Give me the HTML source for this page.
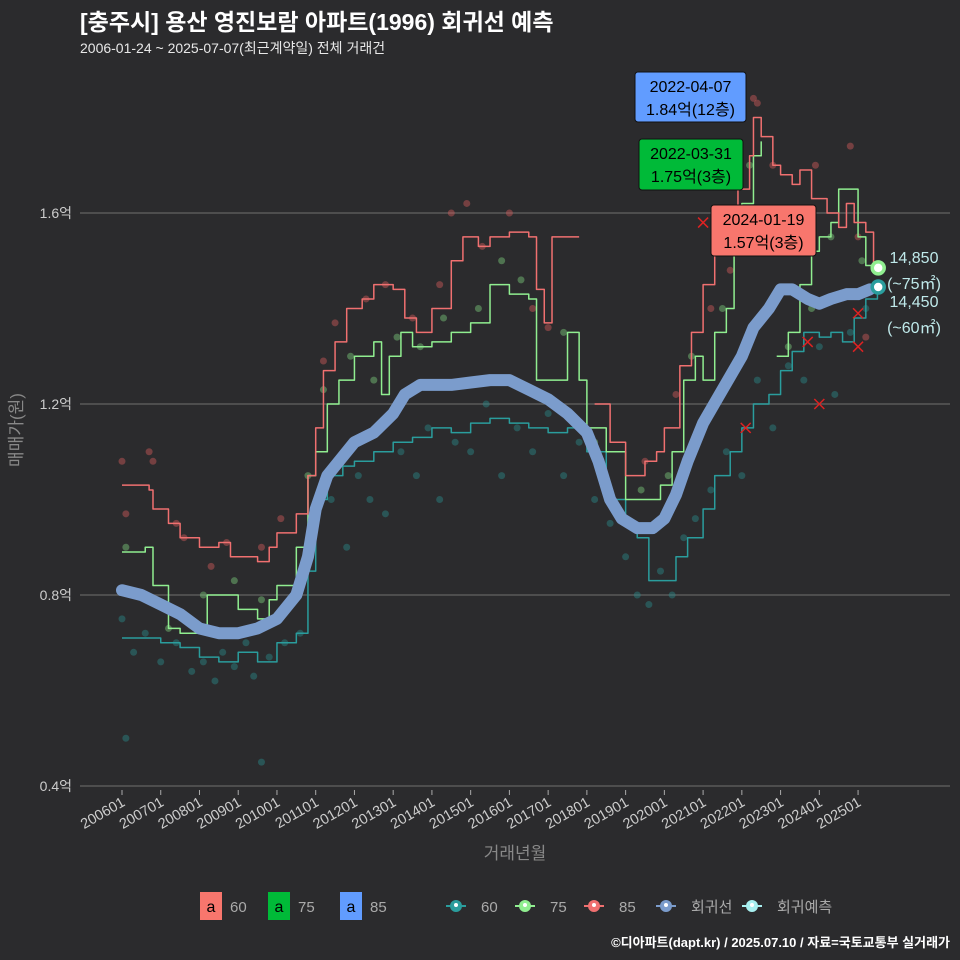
<!DOCTYPE html>
<html><head><meta charset="utf-8">
<style>
html,body{margin:0;padding:0;background:#2b2b2d;}
svg{display:block;font-family:"Liberation Sans","Noto Sans CJK KR",sans-serif;}
</style></head>
<body>
<svg id="chart" width="960" height="960" viewBox="0 0 960 960" xmlns="http://www.w3.org/2000/svg">
<rect width="960" height="960" fill="#2b2b2d"/>
<text x="80" y="30" fill="#ffffff" font-size="23" font-weight="bold">[충주시] 용산 영진보람 아파트(1996) 회귀선 예측</text>
<text x="80" y="53" fill="#e8e8e8" font-size="14">2006-01-24 ~ 2025-07-07(최근계약일) 전체 거래건</text>
<g id="grid"></g>
<g id="plot"></g>
<text x="22" y="430" fill="#888" font-size="17" text-anchor="middle" transform="rotate(-90 22 430)">매매가(원)</text>
<text x="515" y="859" fill="#888" font-size="17" text-anchor="middle">거래년월</text>
<g id="legend"></g>
<text x="950" y="947" fill="#ffffff" font-size="13" font-weight="bold" text-anchor="end">©디아파트(dapt.kr) / 2025.07.10 / 자료=국토교통부 실거래가</text>
</svg>
<script>
const yTicks=[0.4,0.8,1.2,1.6];
const yTickLabels=["0.4억","0.8억","1.2억","1.6억"];
const xTicks=[2006,2007,2008,2009,2010,2011,2012,2013,2014,2015,2016,2017,2018,2019,2020,2021,2022,2023,2024,2025];
const xTickLabels=["200601","200701","200801","200901","201001","201101","201201","201301","201401","201501","201601","201701","201801","201901","202001","202101","202201","202301","202401","202501"];
const redT=[2006.0,2006.7,2006.8,2007.2,2007.5,2008.0,2008.5,2008.8,2009.5,2009.8,2010.0,2010.5,2010.8,2011.0,2011.2,2011.5,2011.8,2012.2,2012.5,2013.0,2013.3,2013.6,2014.0,2014.5,2014.8,2015.2,2015.5,2016.0,2016.5,2016.7,2016.9,2017.1,2017.5,2017.8];
const redV=[1.03,1.02,0.98,0.95,0.92,0.90,0.91,0.88,0.87,0.90,0.93,0.97,1.05,1.15,1.27,1.33,1.40,1.42,1.45,1.44,1.38,1.35,1.40,1.50,1.55,1.53,1.55,1.56,1.55,1.44,1.37,1.55,1.55,1.55];
const red2T=[2018.2,2018.6,2019.0,2019.5,2019.8,2020.0,2020.4,2020.7,2021.0,2021.3,2021.6,2021.9,2022.2,2022.3,2022.5,2022.8,2023.0,2023.3,2023.5,2023.8,2024.0,2024.2,2024.5,2024.7,2024.9,2025.2,2025.4];
const red2V=[1.20,1.12,1.05,1.08,1.10,1.15,1.28,1.35,1.45,1.52,1.60,1.65,1.72,1.80,1.76,1.70,1.68,1.66,1.69,1.63,1.63,1.60,1.57,1.62,1.58,1.56,1.49];
const greenT=[2006.0,2006.6,2006.8,2007.2,2007.5,2008.0,2008.2,2008.8,2009.0,2009.5,2009.8,2010.0,2010.5,2010.8,2011.0,2011.3,2011.6,2012.0,2012.5,2012.7,2012.9,2013.2,2013.5,2014.0,2014.5,2015.0,2015.5,2016.0,2016.5,2016.7,2017.2,2017.5,2017.8,2018.0,2018.5,2019.0,2019.5,2019.9,2020.2,2020.5,2020.8,2021.0,2021.3,2021.6,2021.8,2022.0,2022.3,2022.5];
const greenV=[0.89,0.90,0.82,0.73,0.72,0.72,0.80,0.80,0.77,0.75,0.79,0.82,0.90,1.05,1.10,1.20,1.25,1.30,1.33,1.22,1.30,1.35,1.32,1.33,1.35,1.37,1.45,1.43,1.42,1.25,1.25,1.35,1.25,1.15,1.10,1.00,1.00,1.03,1.10,1.25,1.30,1.25,1.35,1.40,1.55,1.62,1.72,1.75];
const green2T=[2022.9,2023.2,2023.5,2023.8,2024.0,2024.3,2024.5,2024.8,2025.0,2025.2,2025.5];
const green2V=[1.30,1.35,1.45,1.52,1.55,1.58,1.65,1.65,1.55,1.49,1.485];
const tealT=[2006,2007,2007.5,2008,2008.5,2009,2009.5,2010,2010.5,2010.8,2011.0,2011.3,2011.7,2012,2012.5,2013,2013.5,2014,2014.5,2015,2015.5,2016,2016.5,2017,2017.5,2018,2018.5,2019,2019.3,2019.6,2020.0,2020.3,2020.6,2021.0,2021.3,2021.7,2022.0,2022.3,2022.7,2023.0,2023.3,2023.6,2024.0,2024.3,2024.6,2024.9,2025.2,2025.5];
const tealV=[0.71,0.70,0.69,0.67,0.66,0.68,0.66,0.70,0.72,0.85,1.00,1.05,1.07,1.08,1.10,1.12,1.13,1.15,1.14,1.16,1.17,1.16,1.15,1.14,1.15,1.10,1.00,0.95,0.92,0.83,0.83,0.88,0.92,0.98,1.05,1.10,1.15,1.20,1.22,1.27,1.31,1.35,1.34,1.35,1.33,1.38,1.42,1.445];
const regT=[2006.0,2006.5,2007,2007.5,2008,2008.5,2009,2009.5,2010,2010.5,2010.8,2011,2011.3,2011.7,2012,2012.5,2013,2013.3,2013.7,2014,2014.5,2015,2015.5,2016,2016.5,2017,2017.5,2018,2018.3,2018.6,2018.9,2019.3,2019.7,2020,2020.3,2020.6,2021,2021.5,2022,2022.3,2022.7,2023.0,2023.3,2023.7,2024.0,2024.3,2024.7,2025.0,2025.3];
const regV=[0.81,0.80,0.78,0.76,0.73,0.72,0.72,0.73,0.75,0.80,0.88,0.98,1.05,1.09,1.12,1.14,1.18,1.22,1.24,1.24,1.24,1.245,1.25,1.25,1.23,1.21,1.18,1.14,1.08,1.00,0.96,0.94,0.94,0.96,1.01,1.08,1.16,1.23,1.30,1.36,1.40,1.44,1.44,1.42,1.41,1.42,1.43,1.43,1.44];
const redPtT=[2006.0,2006.1,2006.7,2006.8,2007.4,2007.6,2008.3,2008.7,2009.6,2010.1,2011.2,2011.5,2012.3,2012.8,2013.5,2014.2,2014.5,2014.9,2015.3,2016.0,2016.6,2017.0,2019.5,2020.3,2021.2,2021.7,2022.3,2022.4,2022.8,2023.6,2023.9,2024.8,2025.0,2025.2];
const redPtV=[1.08,0.97,1.10,1.08,0.95,0.92,0.86,0.91,0.90,0.96,1.29,1.37,1.42,1.45,1.38,1.45,1.60,1.62,1.53,1.60,1.40,1.36,1.08,1.22,1.40,1.48,1.84,1.83,1.70,1.60,1.70,1.74,1.55,1.34];
const greenPtT=[2006.1,2007.2,2008.1,2008.9,2009.6,2010.8,2011.2,2011.9,2012.5,2013.1,2013.7,2014.3,2015.2,2015.8,2016.3,2017.4,2018.2,2019.4,2020.1,2020.7,2021.5,2022.2,2023.2,2023.8,2024.3,2025.1];
const greenPtV=[0.90,0.73,0.80,0.83,0.79,1.05,1.23,1.30,1.25,1.34,1.32,1.38,1.40,1.50,1.46,1.35,1.12,1.02,1.05,1.30,1.40,1.70,1.32,1.40,1.55,1.50];
const tealPtT=[2006.0,2006.1,2006.3,2006.6,2007.0,2007.4,2007.8,2008.1,2008.4,2008.6,2008.9,2009.2,2009.4,2009.6,2009.8,2010.2,2010.6,2011.0,2011.4,2011.8,2012.1,2012.4,2012.8,2013.2,2013.6,2013.9,2014.2,2014.6,2015.0,2015.4,2015.8,2016.2,2016.6,2017.0,2017.4,2017.8,2018.2,2018.6,2019.0,2019.3,2019.6,2019.9,2020.2,2020.5,2020.8,2021.2,2021.6,2022.0,2022.4,2022.8,2023.2,2023.6,2024.0,2024.4,2024.8,2025.2];
const tealPtV=[0.75,0.50,0.68,0.72,0.66,0.70,0.64,0.66,0.62,0.68,0.65,0.70,0.63,0.45,0.67,0.70,0.72,0.95,1.00,0.90,1.05,1.00,0.97,1.10,1.05,1.15,1.00,1.12,1.10,1.20,1.05,1.15,1.10,1.18,1.05,1.12,1.00,0.95,0.88,0.80,0.78,0.85,0.80,0.92,0.96,1.02,1.10,1.05,1.25,1.15,1.28,1.25,1.32,1.22,1.35,1.40];
const xMarkT=[2021.0,2022.1,2023.7,2024.0,2025.0,2025.0];
const xMarkV=[1.58,1.15,1.33,1.20,1.32,1.39];

const NS="http://www.w3.org/2000/svg";
const X=t=>122+(t-2006)*38.74;
const Y=v=>786-(v-0.4)*477.5;
function mk(tag,attrs,parent){const e=document.createElementNS(NS,tag);for(const k in attrs)e.setAttribute(k,attrs[k]);parent.appendChild(e);return e;}
const grid=document.getElementById('grid'),plot=document.getElementById('plot'),leg=document.getElementById('legend');
yTicks.forEach((v,i)=>{
 const l=mk('line',{x1:80,x2:950,y1:Y(v),y2:Y(v),stroke:'#5a5a5a','stroke-width':1.5},grid);
 
 
 const t=mk('text',{x:72,y:Y(v)+5,fill:'#cccccc','font-size':14,'text-anchor':'end'},grid);
 t.textContent=yTickLabels[i];
 
 
});
xTicks.forEach((tt,i)=>{
 const x=X(tt);
 const l=mk('line',{x1:x,x2:x,y1:790,y2:795,stroke:'#aaa','stroke-width':1},grid);
 
 
 const t=mk('text',{x:x+4,y:805,fill:'#cccccc','font-size':14.5,'text-anchor':'end',transform:`rotate(-30 ${x+4} 805)`},grid);
 t.textContent=xTickLabels[i];
 
 
});
function pts(ts,vs){return ts.map((t,i)=>X(t)+','+Y(vs[i])).join(' ');}
function stepPts(ts,vs){let s=[];ts.forEach((t,i)=>{if(i>0)s.push(X(t)+','+Y(vs[i-1]));s.push(X(t)+','+Y(vs[i]));});return s.join(' ');}
function scatter(ts,vs,col,name){ts.forEach((t,i)=>{const c=mk('circle',{cx:X(t),cy:Y(vs[i]),r:3.5,fill:col,opacity:0.45},plot);});}
scatter(tealPtT,tealPtV,'#2a8a8a','point-60');
scatter(greenPtT,greenPtV,'#7ccd7c','point-75');
scatter(redPtT,redPtV,'#d05a5a','point-85');
function line(ts,vs,col,w,name){const p=mk('polyline',{points:stepPts(ts,vs),fill:'none',stroke:col,'stroke-width':w,'stroke-linejoin':'round'},plot);}
line(tealT,tealV,'#2a9d9d',1.5,'line-60');
line(greenT,greenV,'#90ee90',1.5,'line-75');
line(green2T,green2V,'#90ee90',1.5,'line-75-recent');
line(redT,redV,'#f07070',1.5,'line-85');
line(red2T,red2V,'#f07070',1.5,'line-85-recent');
const rg=mk('polyline',{points:pts(regT,regV),fill:'none',stroke:'#7b9ccc','stroke-width':12,'stroke-linejoin':'round','stroke-linecap':'round'},plot);


xMarkT.forEach((t,i)=>{const x=X(t),y=Y(xMarkV[i]);const p=mk('path',{d:`M${x-5},${y-5}L${x+5},${y+5}M${x-5},${y+5}L${x+5},${y-5}`,stroke:'#dd2222','stroke-width':1.5},plot);});
[[2025.52,1.485,'#90ee90'],[2025.52,1.445,'#2a9d9d']].forEach((d,i)=>{
 const c=mk('circle',{cx:X(d[0]),cy:Y(d[1]),r:6,fill:'#fff',stroke:d[2],'stroke-width':3.5},plot);
 
 
});
[['14,850',263],['(~75㎡)',289],['14,450',307],['(~60㎡)',333]].forEach(d=>{
 const t=mk('text',{x:914,y:d[1],fill:'#bfe9ea','font-size':16,'text-anchor':'middle'},plot);t.textContent=d[0];
 
 
});
[[635,72,111,50,'#619cff','2022-04-07','1.84억(12층)','label-max-85'],[639,139,104,51,'#00ba38','2022-03-31','1.75억(3층)','label-max-75'],[711,205,105,51,'#f8766d','2024-01-19','1.57억(3층)','label-max-60']].forEach(d=>{
 const g=mk('g',{},plot);
 
 
 mk('rect',{x:d[0],y:d[1],width:d[2],height:d[3],rx:3,fill:d[4],stroke:'#111','stroke-width':1},g);
 const cx=d[0]+d[2]/2;
 const a=mk('text',{x:cx,y:d[1]+20,'font-size':16,'text-anchor':'middle',fill:'#000'},g);a.textContent=d[5];
 const b=mk('text',{x:cx,y:d[1]+43,'font-size':16,'text-anchor':'middle',fill:'#000'},g);b.textContent=d[6];
});
[[200,'#f8766d','60'],[268,'#00ba38','75'],[340,'#619cff','85']].forEach(d=>{
 const g=mk('g',{},leg);
 
 
 mk('rect',{x:d[0],y:892,width:22,height:28,fill:d[1]},g);
 const a=mk('text',{x:d[0]+11,y:912,'font-size':16,'text-anchor':'middle',fill:'#000'},g);a.textContent='a';
 const b=mk('text',{x:d[0]+30,y:912,'font-size':15,fill:'#aaa'},g);b.textContent=d[2];
});
[[456,'#2a9d9d','60'],[525,'#90ee90','75'],[594,'#f07070','85'],[666,'#7b9ccc','회귀선'],[752,'#a8f0f0','회귀예측']].forEach(d=>{
 const g=mk('g',{},leg);
 
 
 mk('line',{x1:d[0]-10,x2:d[0]+10,y1:906,y2:906,stroke:d[1],'stroke-width':2},g);
 mk('circle',{cx:d[0],cy:906,r:6,fill:d[1]},g);
 mk('circle',{cx:d[0],cy:905,r:2,fill:'#fff'},g);
 const b=mk('text',{x:d[0]+25,y:912,'font-size':15,fill:'#aaa'},g);b.textContent=d[2];
});
</script>
</body></html>
